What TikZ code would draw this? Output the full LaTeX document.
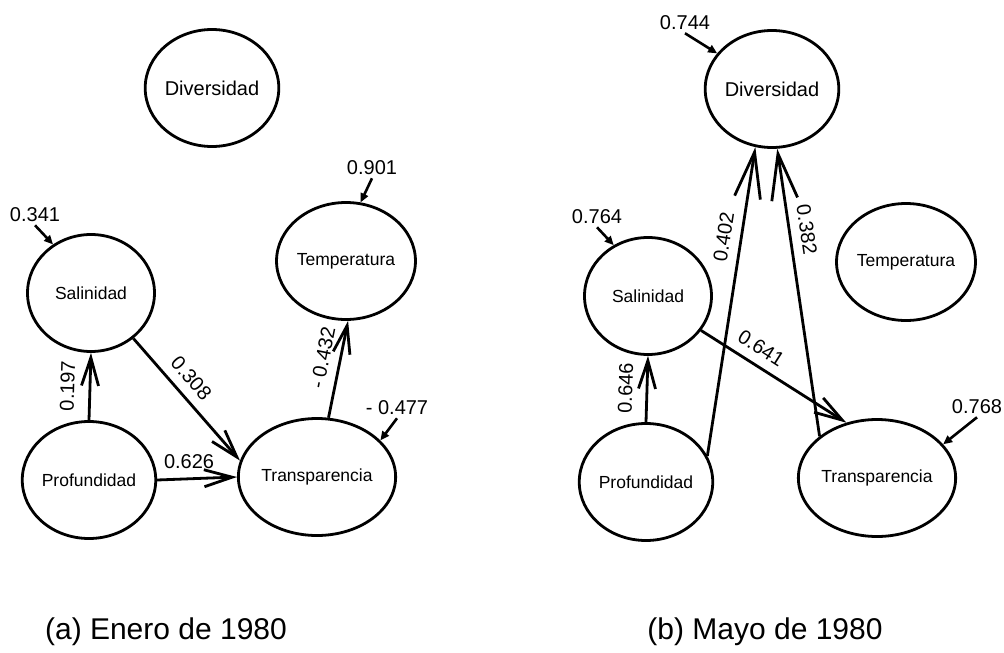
\documentclass[tikz,border=0pt]{standalone}
\usepackage{fontspec}
\setmainfont{Liberation Sans}
\usetikzlibrary{arrows.meta,shapes.geometric}

\begin{document}
\begin{tikzpicture}
    [ x=1pt, y=-1pt
    , every node/.style={font=\fontsize{17.5}{20}\selectfont}
    , var/.style={ellipse, draw, line width=2.8pt, minimum width=127pt, minimum height=117pt, inner sep=0pt}
    , effect/.style={line width=2.8pt, -{Straight Barb[length=28pt,width=17pt]}}
    , longeffect/.style={line width=2.8pt, -{Straight Barb[length=46pt,width=26pt]}}
    , res/.style={line width=2.6pt, -{Triangle[length=9pt,width=8pt]}}
    , coef/.style={font=\fontsize{20}{22}\selectfont, inner sep=3pt}
    , lbl/.style={coef, inner sep=9pt}
    %, lbl/.style={coef, sloped, above}
    , caption/.style={font=\fontsize{30}{34}\selectfont}
    ]
\useasboundingbox (0,0) rectangle (1004,653);
% (a) enero
\node[var,font=\fontsize{20}{22}\selectfont] (divA) at (212,88) {Diversidad};
\node[var] (salA) at (91,293) {Salinidad};
\node[var] (temA) at (346,261) {Temperatura};
\node[var] (proA) at (89,480) {Profundidad};
\node[var] (traA) at (317,477) {Transparencia};
\node[coef] (rSalA) at (35,215) {0.341};
\node[coef] (rTemA) at (372,168) {0.901};
\node[coef] (rTraA) at (397,408) {- 0.477};
\draw[effect] (proA.north) -- node[lbl,sloped,above,inner sep=14pt] {0.197} (salA.south);
\draw[effect] (salA.-47) -- node[lbl,sloped,above,pos=0.42] {0.308} (traA.168);
\draw[effect] (proA.east) -- node[lbl,above,pos=0.4] {0.626} (traA.west);
\draw[effect] (traA.79) -- node[lbl,sloped,above,pos=0.58] {- 0.432} (temA.-88);
\draw[res] (rSalA.south) -- (salA.128);
\draw[res] (rTemA.south) -- (temA.76);
\draw[res] (rTraA.south) -- (traA.30);
\node[caption] (capA) at (166,632) {(a) Enero de 1980};
% (b) mayo
\node[var,font=\fontsize{20}{22}\selectfont] (divB) at (772,89) {Diversidad};
\node[var] (salB) at (648,296) {Salinidad};
\node[var] (temB) at (906,262) {Temperatura};
\node[var] (proB) at (646,482) {Profundidad};
\node[var] (traB) at (877,478) {Transparencia};
\node[coef] (rDivB) at (685,23) {0.744};
\node[coef] (rSalB) at (597,217) {0.764};
\node[coef] (rTraB) at (977,407) {0.768};
\draw[effect] (proB.north) -- node[lbl,sloped,above,inner sep=13pt] {0.646} (salB.south);
\draw[effect] (salB.-33) -- node[lbl,sloped,above,pos=0.35] {0.641} (traB.119);
\draw[longeffect] (proB.23) -- node[lbl,sloped,above,pos=0.7] {0.402} (divB.-106);
\draw[longeffect] (traB.144) -- node[lbl,sloped,above,pos=0.71] {0.382} (divB.-85);
\draw[res] (rDivB.south) -- (divB.147);
\draw[res] (rSalB.south) -- (salB.124);
\draw[res] (rTraB.south) -- (traB.27);
\node[caption] (capB) at (765,632) {(b) Mayo de 1980};
\end{tikzpicture}
\end{document}
